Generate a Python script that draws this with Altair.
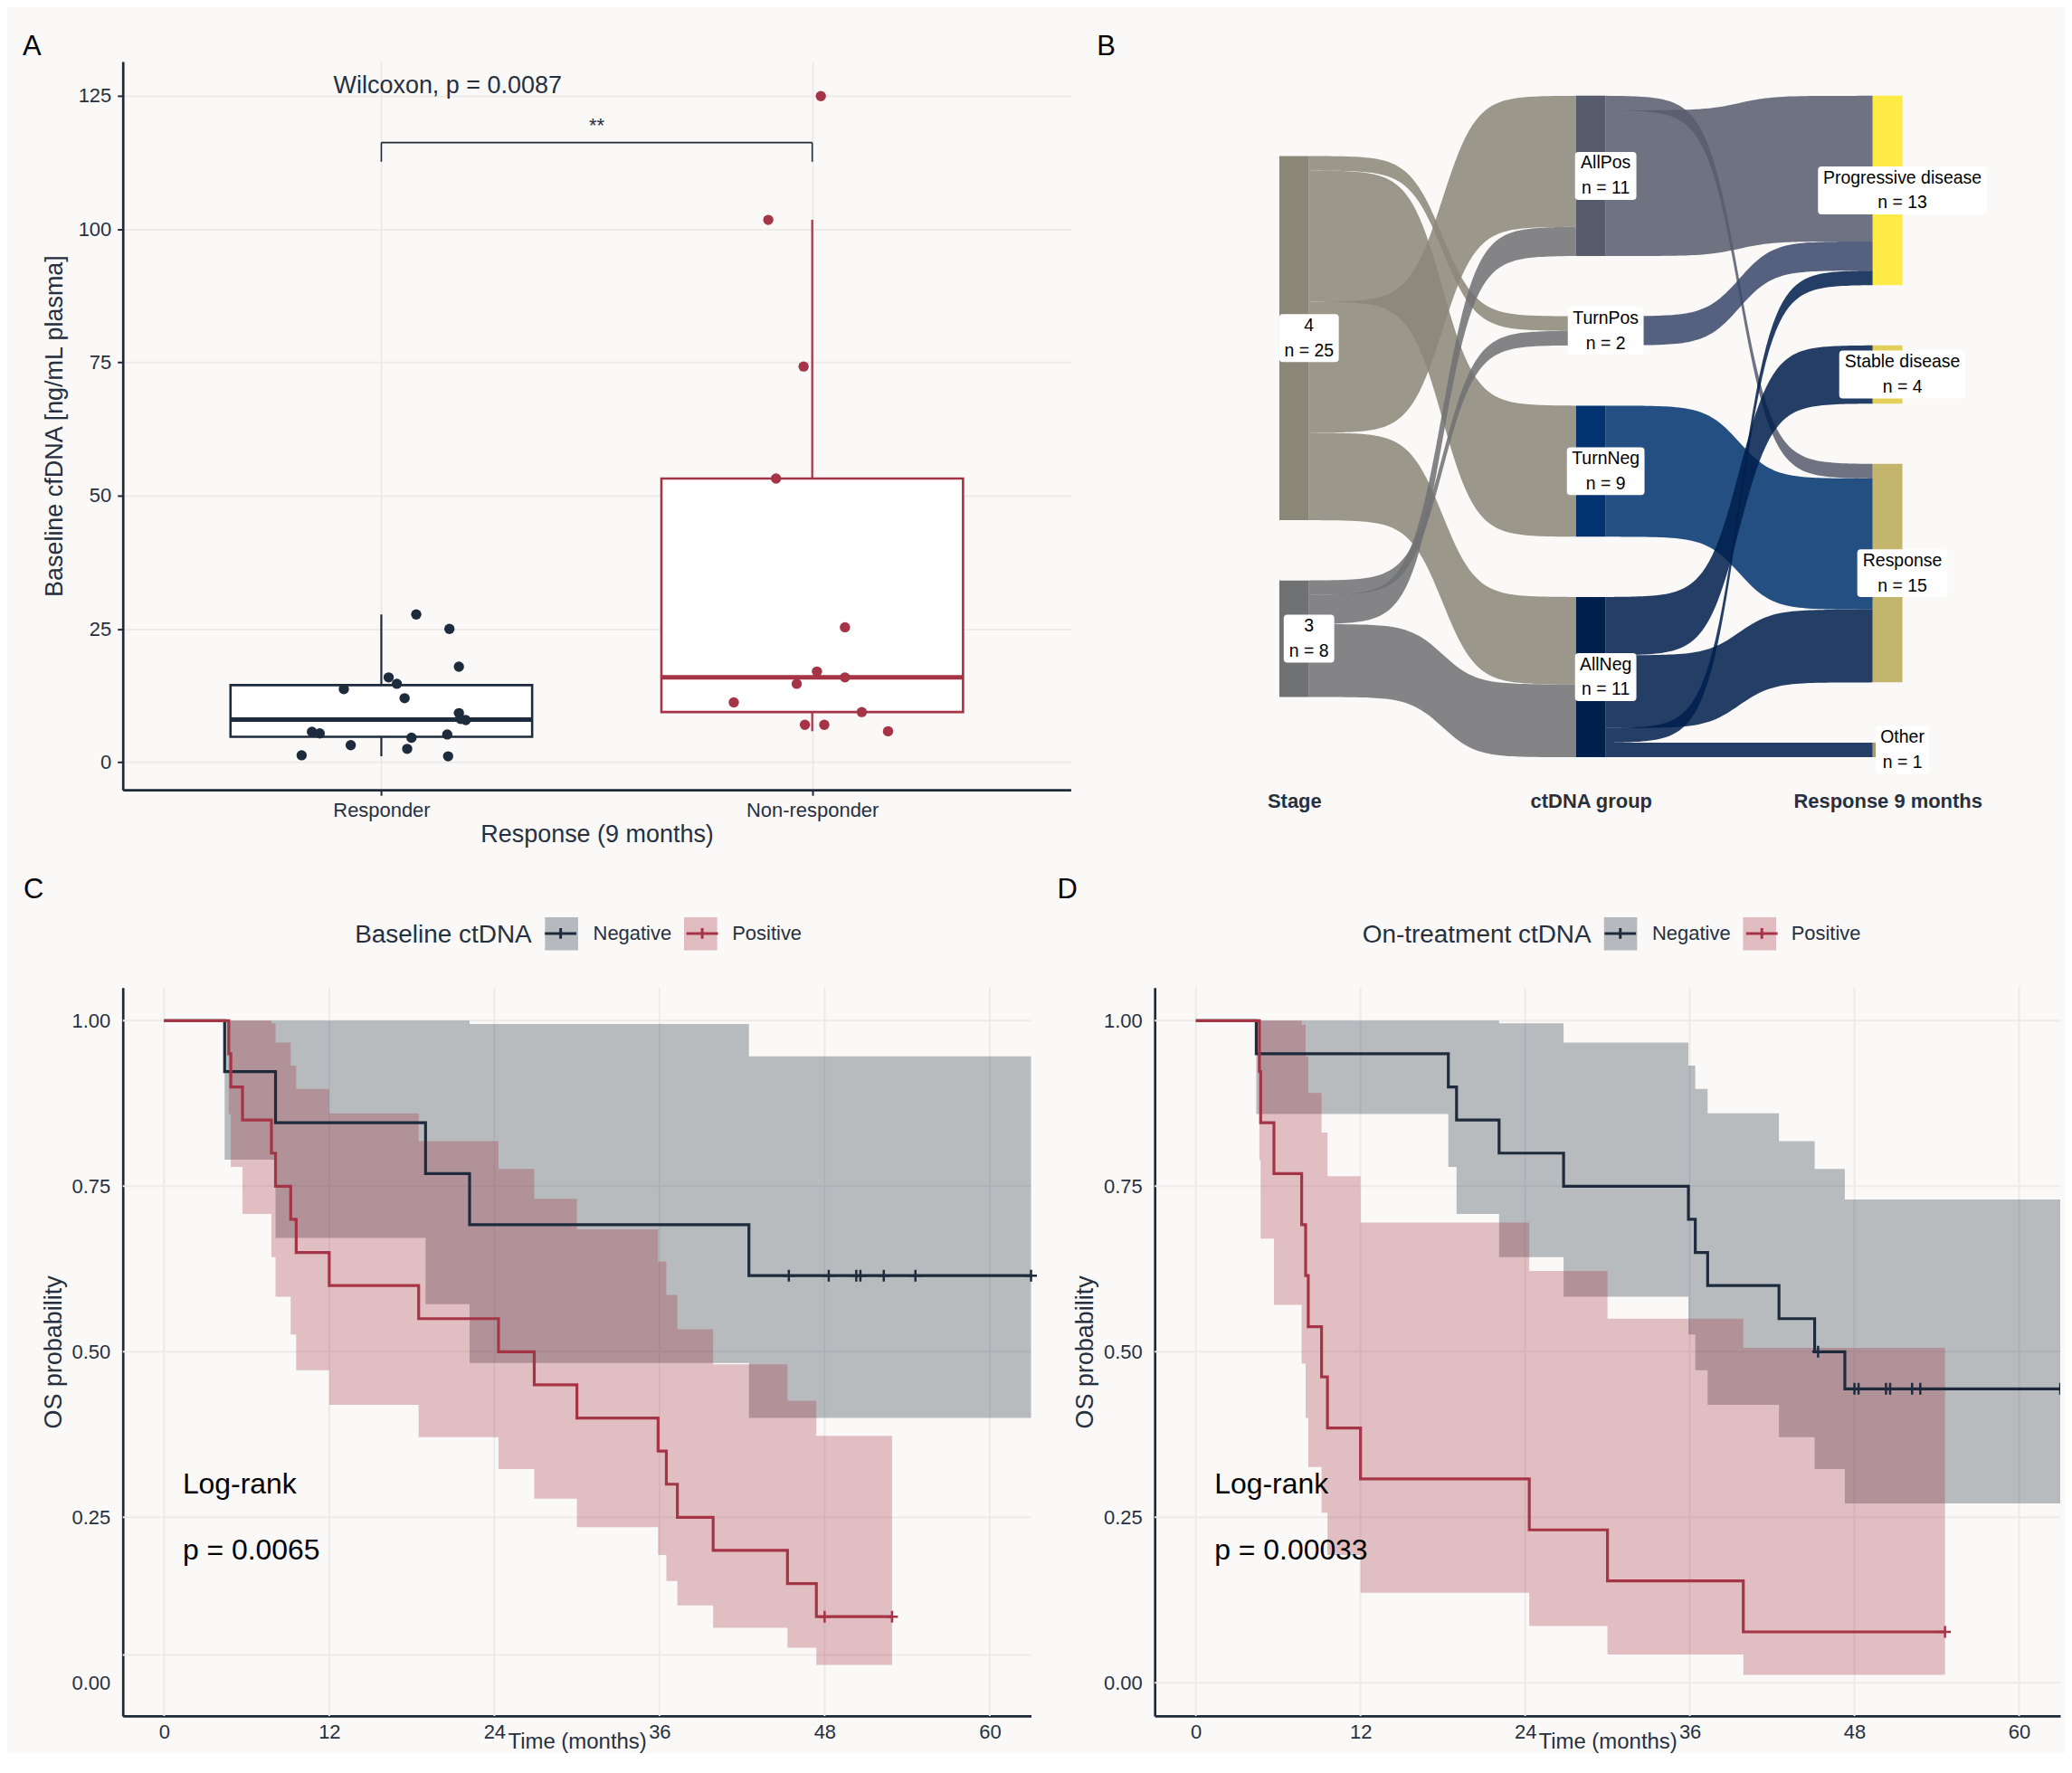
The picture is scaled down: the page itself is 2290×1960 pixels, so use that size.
import altair as alt
import numpy as np
import pandas as pd

FONT = "Liberation Sans"
BG = "#FAF9F7"
NAVY = "#1E2B3C"
RED = "#A53447"
TXT = "#27303F"
AXC = "#1E2A3A"
GRID = "#ECEBE9"

# ---------------- panel A data ----------------
groups_A = ["Responder", "Non-responder"]
resp_vals = [1.3, 5.7, 5.4, 13.7, 3.2, 15.9, 14.7, 12.0, 2.5, 4.6, 27.7, 25.0, 17.9, 9.2, 8.1, 7.9, 5.2, 1.1]
resp_jitter = [-0.185, -0.161, -0.143, -0.087, -0.071, 0.017, 0.036, 0.054, 0.060, 0.070, 0.081,
               0.158, 0.180, 0.180, 0.184, 0.196, 0.153, 0.155]
nonresp_vals = [124.9, 101.7, 74.2, 53.2, 25.3, 17.0, 14.7, 15.9, 11.2, 7.0, 7.0, 9.4, 5.8]
nonresp_jitter = [0.020, -0.102, -0.020, -0.084, 0.076, 0.011, -0.036, 0.076, -0.182, -0.017, 0.028, 0.115, 0.176]
wilcoxon_text = "Wilcoxon, p = 0.0087"
wilcoxon_pos = [0.889, 126.8]
signif_text = "**"
signif_pos = [1.5, 119.3]
bracket_level = 116.2
bracket_tip = 112.6
yticks_A = [0, 25, 50, 75, 100, 125]

# ---------------- panel B data ----------------
stage_nodes = ["4", "3"]
ctdna_nodes = ["AllPos", "TurnPos", "TurnNeg", "AllNeg"]
resp9_nodes = ["Progressive disease", "Stable disease", "Response", "Other"]
axis_names_B = ["Stage", "ctDNA group", "Response 9 months"]
flow1_src = ["4", "4", "4", "4", "3", "3", "3"]
flow1_tgt = ["TurnPos", "TurnNeg", "AllPos", "AllNeg", "TurnPos", "AllPos", "AllNeg"]
flow1_n = [1, 9, 9, 6, 1, 2, 5]
flow2_src = ["AllPos", "AllPos", "TurnPos", "TurnNeg", "AllNeg", "AllNeg", "AllNeg", "AllNeg"]
flow2_tgt = ["Response", "Progressive disease", "Progressive disease", "Response",
             "Stable disease", "Response", "Progressive disease", "Other"]
flow2_n = [1, 10, 2, 9, 4, 5, 1, 1]
node_colors = {"AllNeg": "#00204D", "TurnNeg": "#00336F", "TurnPos": "#39486B", "AllPos": "#575C6D",
               "3": "#707173", "4": "#8A8779", "Other": "#A69D75", "Response": "#C4B56C",
               "Stable disease": "#E4CF5B", "Progressive disease": "#FFEA46"}

# ---------------- panels C / D data ----------------
c_neg = dict(time=[0, 4.4, 8.1, 19.0, 22.2, 42.5, 63.0],
             surv=[1, 0.923, 0.846, 0.769, 0.692, 0.615, 0.615],
             low=[1, 0.790, 0.672, 0.572, 0.483, 0.400, 0.400],
             up=[1, 1, 1, 1, 0.995, 0.946, 0.946],
             cens=[45.4, 48.3, 50.3, 50.6, 52.3, 54.6, 63.0])
c_pos = dict(time=[0, 4.7, 4.85, 5.7, 7.8, 8.1, 9.2, 9.6, 12.0, 18.5, 24.3, 26.9, 30.0, 35.9, 36.5, 37.3, 39.9, 45.3, 47.4, 52.9],
             surv=[1, .95, .90, .85, .80, .75, .70, .65, .60, .55, .50, .45, .40, .35, .30, .25, .20, .15, .10, .10],
             low=[1, .859, .779, .708, .643, .583, .526, .472, .420, .371, .323, .278, .235, .193, .154, .117, .083, .053, .027, .027],
             up=[1, 1, 1, 1, .996, .967, .932, .897, .860, .818, .776, .731, .685, .636, .586, .534, .481, .426, .373, .373],
             cens=[48.0, 52.9])
d_neg = dict(time=[0, 4.4, 18.4, 19.0, 22.1, 26.8, 35.9, 36.4, 37.3, 42.5, 45.1, 47.3, 63.0],
             surv=[1, .95, .90, .85, .80, .75, .70, .65, .60, .55, .50, .444, .444],
             low=[1, .859, .779, .708, .643, .583, .526, .472, .420, .371, .323, .271, .271],
             up=[1, 1, 1, 1, .996, .967, .932, .897, .860, .818, .776, .730, .730],
             cens=[45.35, 48.0, 48.3, 50.3, 50.6, 52.2, 52.8, 63.0])
d_pos = dict(time=[0, 4.63, 4.72, 5.69, 7.71, 8.0, 8.19, 9.16, 9.59, 12.0, 24.3, 30.0, 39.9, 54.6],
             surv=[1, .923, .846, .769, .692, .615, .538, .462, .385, .308, .231, .154, .077, .077],
             low=[1, .789, .671, .571, .482, .400, .326, .257, .193, .136, .086, .043, .012, .012],
             up=[1, 1, 1, 1, .994, .946, .891, .831, .765, .695, .622, .550, .506, .506],
             cens=[54.6])
km_groups = ["Negative", "Positive"]
km_xticks = [0, 12, 24, 36, 48, 60]
km_yticks = [0, 0.25, 0.5, 0.75, 1.0]
c_grid_y = [0.042, 0.25, 0.5, 0.75, 1.0]
d_grid_y = [0, 0.25, 0.5, 0.75, 1.0]
c_legend_title = "Baseline ctDNA"
d_legend_title = "On-treatment ctDNA"
c_pval = "p = 0.0065"
d_pval = "p = 0.00033"
logrank_text = "Log-rank"
logrank_pos = [1.35, 0.30, 0.20]

# text widths (px) used to lay the line-key legend exactly over the band-key legend
LEG_TITLE_W = {"C": 196.0, "D": 253.7}
LEG_LABEL_W = 86.8
LEG_TITLE_PAD = 12
LEG_COL_PAD = 7


def letter_title(letter, dx, dy):
    return alt.TitleParams(text=letter, anchor="start", frame="group", dx=dx, dy=dy, offset=6,
                           fontSize=31, fontWeight="normal", color="black", font=FONT,
                           baseline="alphabetic")


# ================= Panel A =================
def box_stats(vals):
    v = np.array(vals, dtype=float)
    q1, med, q3 = np.percentile(v, [25, 50, 75])
    iqr = q3 - q1
    lo = v[v >= q1 - 1.5 * iqr].min()
    hi = v[v <= q3 + 1.5 * iqr].max()
    return q1, med, q3, lo, hi

colors_A = [NAVY, RED]
HALF_BOX = 0.35
box_rows = []
pt_rows = []
for i, (g, vals, jit) in enumerate([(groups_A[0], resp_vals, resp_jitter), (groups_A[1], nonresp_vals, nonresp_jitter)]):
    q1, med, q3, lo, hi = box_stats(vals)
    c = i + 1
    box_rows.append(dict(x=c, xl=c - HALF_BOX, xr=c + HALF_BOX, q1=q1, med=med, q3=q3, lo=lo, hi=hi, col=colors_A[i]))
    for v, j in zip(vals, jit):
        pt_rows.append(dict(xj=c + j, val=v, col=colors_A[i]))
box_df = pd.DataFrame(box_rows)
pt_df = pd.DataFrame(pt_rows)

xsA = alt.Scale(domain=[0.4, 2.6], nice=False, zero=False)
ysA = alt.Scale(domain=[-5.2, 131.4], nice=False, zero=False)
label_expr_A = "[" + ",".join("'%s'" % g for g in groups_A) + "][datum.value - 1]"
xaxA = alt.Axis(values=[1, 2], labelExpr=label_expr_A, title="Response (9 months)", grid=True,
                ticks=True, tickSize=6, labelPadding=6, titlePadding=3)
yaxA = alt.Axis(values=yticks_A, title="Baseline cfDNA [ng/mL plasma]", grid=True, ticks=True,
                tickSize=6, labelPadding=7, titlePadding=12)

def XA(f):
    return alt.X(f, type="quantitative", scale=xsA, axis=xaxA)

def YA(f):
    return alt.Y(f, type="quantitative", scale=ysA, axis=yaxA)

whisk_lo = alt.Chart(box_df).mark_rule(strokeWidth=2.2).encode(
    x=XA("x"), y=YA("lo"), y2="q1", color=alt.Color("col:N", scale=None))
whisk_hi = alt.Chart(box_df).mark_rule(strokeWidth=2.2).encode(
    x=XA("x"), y=YA("q3"), y2="hi", color=alt.Color("col:N", scale=None))
box = alt.Chart(box_df).mark_rect(fill="white", strokeWidth=2.6).encode(
    x=XA("xl"), x2="xr", y=YA("q1"), y2="q3", stroke=alt.Stroke("col:N", scale=None))
median = alt.Chart(box_df).mark_rule(strokeWidth=5).encode(
    x=XA("xl"), x2="xr", y=YA("med"), color=alt.Color("col:N", scale=None))
points = alt.Chart(pt_df).mark_circle(size=130, opacity=1).encode(
    x=XA("xj"), y=YA("val"), color=alt.Color("col:N", scale=None))
br_df = pd.DataFrame(dict(x=[1, 1, 2], x2=[2, 1, 2], y=[bracket_level, bracket_tip, bracket_tip],
                          y2=[bracket_level, bracket_level, bracket_level]))
bracket = alt.Chart(br_df).mark_rule(strokeWidth=1.6, color=AXC).encode(
    x=XA("x"), x2="x2", y=YA("y"), y2="y2")
sig = alt.Chart(pd.DataFrame(dict(x=[signif_pos[0]], y=[signif_pos[1]], t=[signif_text]))).mark_text(
    fontSize=22, color=TXT, font=FONT, baseline="middle", align="center").encode(
    x=XA("x"), y=YA("y"), text="t:N")
wil = alt.Chart(pd.DataFrame(dict(x=[wilcoxon_pos[0]], y=[wilcoxon_pos[1]], t=[wilcoxon_text]))).mark_text(
    fontSize=27, color=TXT, font=FONT, baseline="middle", align="left").encode(
    x=XA("x"), y=YA("y"), text="t:N")

panelA = alt.layer(whisk_lo, whisk_hi, box, median, points, bracket, sig, wil).properties(
    width=1050, height=807, title=letter_title("A", -111, 30))

# ================= Panel B (sankey) =================
GAP = 4.135
NODE_W = 0.1
columns = [stage_nodes, ctdna_nodes, resp9_nodes]
flows1 = list(zip(flow1_src, flow1_tgt, flow1_n))
flows2 = list(zip(flow2_src, flow2_tgt, flow2_n))
size_in, size_out = {}, {}
for s, t, n in flows1 + flows2:
    size_out[s] = size_out.get(s, 0) + n
    size_in[t] = size_in.get(t, 0) + n
node_size = {n: max(size_in.get(n, 0), size_out.get(n, 0)) for col in columns for n in col}
col_tot = [sum(node_size[n] for n in col) + GAP * (len(col) - 1) for col in columns]
hmax = max(col_tot)
node_top, node_col = {}, {}
for ci, col in enumerate(columns):
    y = (hmax - col_tot[ci]) / 2
    for n in col:
        node_top[n] = y
        node_col[n] = ci + 1
        y += node_size[n] + GAP

tt = np.linspace(-8, 8, 81)
sig_c = 1 / (1 + np.exp(-tt))
sig_c = (sig_c - sig_c.min()) / (sig_c.max() - sig_c.min())
flow_rows = []
fid = 0
for flows, src_order in ((flows1, stage_nodes), (flows2, ctdna_nodes)):
    out_off = {}
    in_off = {}
    out_pos = []
    for s, t, n in flows:
        o = out_off.get(s, 0.0)
        out_pos.append(o)
        out_off[s] = o + n
    in_pos = [0.0] * len(flows)
    for src in src_order:
        for k, (s, t, n) in enumerate(flows):
            if s == src:
                o = in_off.get(t, 0.0)
                in_pos[k] = o
                in_off[t] = o + n
    for k, (s, t, n) in enumerate(flows):
        x0 = node_col[s] + NODE_W / 2
        x1 = node_col[t] - NODE_W / 2
        ys0 = node_top[s] + out_pos[k]
        yt0 = node_top[t] + in_pos[k]
        xs = x0 + (x1 - x0) * (tt + 8) / 16
        top = ys0 + (yt0 - ys0) * sig_c
        for xv, yv in zip(xs, top):
            flow_rows.append(dict(fid=fid, x=xv, ylo=yv, yhi=yv + n, col=node_colors[s]))
        fid += 1
flow_df = pd.DataFrame(flow_rows)

node_df = pd.DataFrame([dict(node=n, x0=node_col[n] - NODE_W / 2, x1=node_col[n] + NODE_W / 2,
                             y0=node_top[n], y1=node_top[n] + node_size[n], col=node_colors[n],
                             lx=node_col[n] + NODE_W / 2, ly=node_top[n] + node_size[n] / 2,
                             label="%s\nn = %d" % (n, node_size[n])) for col in columns for n in col])

xsB = alt.Scale(domain=[0.530, 3.582], nice=False, zero=False)
ysB = alt.Scale(domain=[-2.352, 47.65], nice=False, zero=False, reverse=True)
label_expr_B = "[" + ",".join("'%s'" % g for g in axis_names_B) + "][datum.value - 1]"
xaxB = alt.Axis(values=[1, 2, 3], labelExpr=label_expr_B, title=None, domain=False, ticks=False,
                grid=False, labelFontWeight="bold", labelPadding=2, labelLimit=400)

def XB(f):
    return alt.X(f, type="quantitative", scale=xsB, axis=xaxB)

def YB(f):
    return alt.Y(f, type="quantitative", scale=ysB, axis=None)

flows_ch = alt.Chart(flow_df).mark_area(opacity=0.86, orient="vertical").encode(
    x=XB("x"), y=YB("ylo"), y2="yhi", fill=alt.Fill("col:N", scale=None), detail="fid:N")
nodes_ch = alt.Chart(node_df).mark_rect().encode(
    x=XB("x0"), x2="x1", y=YB("y0"), y2="y1", fill=alt.Fill("col:N", scale=None))

label_box_w = {"4": 66, "3": 56, "AllPos": 68, "TurnPos": 84, "TurnNeg": 86, "AllNeg": 68,
               "Progressive disease": 187, "Stable disease": 140, "Response": 100, "Other": 59}
LABEL_H = 53
LABEL_R = 4
LINE_H = 28

def rounded_box_path(w, h, r):
    hh = h / w
    rr = 2 * r / w
    f = lambda v: "%.4f" % v
    return ("M%s,%sH%sQ1,%s 1,%sV%sQ1,%s %s,%sH%sQ-1,%s -1,%sV%sQ-1,%s %s,%sZ" % (
        f(-1 + rr), f(-hh), f(1 - rr), f(-hh), f(-hh + rr), f(hh - rr), f(hh), f(1 - rr), f(hh),
        f(-1 + rr), f(hh), f(hh - rr), f(-hh + rr), f(-hh), f(-1 + rr), f(-hh)))

box_layers = []
for _, row in node_df.iterrows():
    w = label_box_w[row["node"]]
    box_layers.append(alt.Chart(node_df[node_df["node"] == row["node"]]).mark_point(
        shape=rounded_box_path(w, LABEL_H, LABEL_R), size=w * w, filled=True, color="white",
        opacity=1, strokeWidth=0).encode(x=XB("lx"), y=YB("ly")))
labels_ch = alt.Chart(node_df).mark_text(lineBreak="\n", fontSize=19.5, lineHeight=LINE_H, font=FONT,
                                          color="black", baseline="middle", align="center",
                                          dy=-LINE_H / 2).encode(
    x=XB("lx"), y=YB("ly"), text="label:N")

panelB = alt.layer(flows_ch, nodes_ch, *box_layers, labels_ch).properties(
    width=1003, height=807, title=letter_title("B", -64, 30))


# ================= Panels C / D =================
def km_panel(neg, pos, legend_title, grid_y, letter, letter_dx, pval, legend_x, width, clip_cens):
    rows, crow = [], []
    for g, d in zip(km_groups, (neg, pos)):
        for t, s, lo, up in zip(d["time"], d["surv"], d["low"], d["up"]):
            rows.append(dict(group=g, group_s=g, time=t, surv=s, low=lo, up=up))
        for c in d["cens"]:
            k = int(np.searchsorted(d["time"], c, side="right") - 1)
            crow.append(dict(group=g, time=c, surv=d["surv"][k]))
    curves = pd.DataFrame(rows)
    cens = pd.DataFrame(crow)
    xs = alt.Scale(domain=[-3, 63], nice=False, zero=False)
    ys = alt.Scale(domain=[-0.05, 1.05], nice=False, zero=False)
    xax = alt.Axis(values=km_xticks, title="Time (months)", grid=False, ticks=False,
                   labelPadding=8, titlePadding=-12, titleFontSize=24)
    yax = alt.Axis(values=km_yticks, format=".2f", title="OS probability", grid=False, ticks=False,
                   labelPadding=14, titlePadding=6)

    def X(f):
        return alt.X(f, type="quantitative", scale=xs, axis=xax)

    def Y(f):
        return alt.Y(f, type="quantitative", scale=ys, axis=yax)

    crange = alt.Scale(range=[NAVY, RED])
    sym = dict(orient="none", legendY=-80, direction="horizontal", symbolSize=1347, symbolStrokeWidth=3)
    fill_leg = alt.Legend(legendX=legend_x, title=legend_title, titleOrient="left", titleFontSize=28,
                          titleFontWeight="normal", titleFont=FONT, titleColor=TXT,
                          titlePadding=LEG_TITLE_PAD, titleLimit=600, labelFontSize=22, labelFont=FONT,
                          labelColor=TXT, labelOffset=15, columnPadding=LEG_COL_PAD, symbolType="square",
                          symbolOpacity=0.3, symbolStrokeColor="transparent", **sym)
    stroke_leg = alt.Legend(legendX=legend_x + LEG_TITLE_W[letter] + LEG_TITLE_PAD, title=None,
                            labelExpr="''", labelOffset=0, columnPadding=15 + LEG_LABEL_W + LEG_COL_PAD,
                            symbolType="M-0.95,0H0.95M0,-0.32V0.32", symbolFillColor="transparent", **sym)

    gh = alt.Chart(pd.DataFrame(dict(gy=grid_y))).mark_rule(color=GRID, strokeWidth=2).encode(y=Y("gy"))
    gv = alt.Chart(pd.DataFrame(dict(gx=km_xticks))).mark_rule(color=GRID, strokeWidth=2).encode(x=X("gx"))
    band = alt.Chart(curves).mark_area(interpolate="step-after", opacity=0.3).encode(
        x=X("time"), y=Y("low"), y2="up", fill=alt.Fill("group:N", scale=crange, legend=fill_leg))
    line = alt.Chart(curves).mark_line(interpolate="step-after", strokeWidth=3.2).encode(
        x=X("time"), y=Y("surv"), stroke=alt.Stroke("group_s:N", scale=crange, legend=stroke_leg))
    cm = alt.Chart(cens).mark_point(shape="M-1,0H1M0,-1V1", size=170, strokeWidth=2.5, filled=False,
                                    opacity=1, clip=clip_cens).encode(
        x=X("time"), y=Y("surv"), color=alt.Color("group:N", scale=crange, legend=None))
    txt = alt.Chart(pd.DataFrame(dict(x=[logrank_pos[0], logrank_pos[0]], y=[logrank_pos[1], logrank_pos[2]],
                                      t=[logrank_text, pval]))).mark_text(
        align="left", baseline="middle", fontSize=32, color="black", font=FONT).encode(
        x=X("x"), y=Y("y"), text="t:N")
    return alt.layer(gh, gv, band, line, cm, txt).properties(
        width=width, height=807, title=letter_title(letter, letter_dx, 18))

panelC = km_panel(c_neg, c_pos, c_legend_title, c_grid_y, "C", -110, c_pval, 257, 1006, False)
panelD = km_panel(d_neg, d_pos, d_legend_title, d_grid_y, "D", -108, d_pval, 230, 1003, True)

chart = alt.concat(panelA, panelB, panelC, panelD, columns=2, spacing={"row": 219, "column": 93},
                   bounds="flush").resolve_scale(
    fill="independent", stroke="independent", color="independent").resolve_legend(
    fill="independent", stroke="independent", color="independent").properties(
    padding={"left": 17, "top": 26, "right": -2, "bottom": -2}
).configure(background=BG, font=FONT).configure_view(strokeWidth=0).configure_axis(
    domainColor=AXC, domainWidth=2.7, tickColor=AXC, tickWidth=2, labelFont=FONT, labelFontSize=22,
    labelColor=TXT, titleFont=FONT, titleFontSize=27, titleFontWeight="normal", titleColor=TXT,
    gridColor=GRID, gridWidth=2)

chart.save("out.html", embed_options={"renderer": "svg", "actions": False})
